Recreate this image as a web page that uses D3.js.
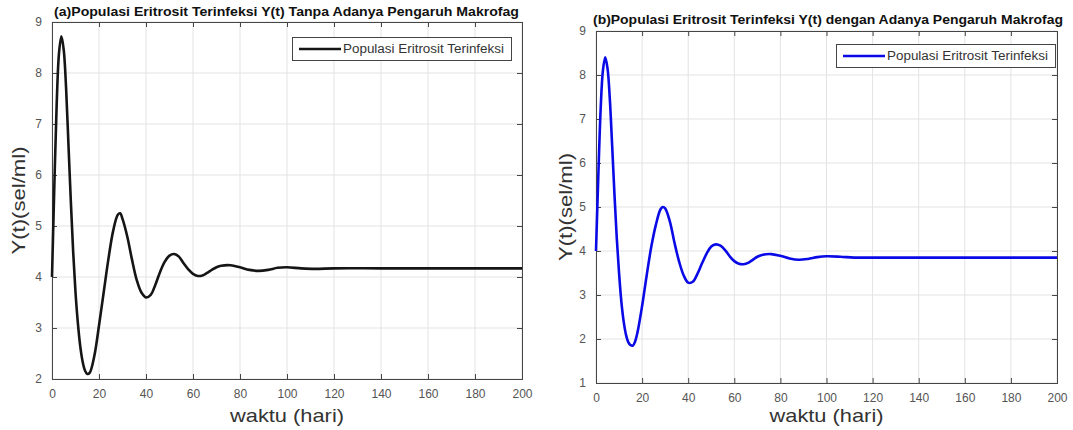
<!DOCTYPE html>
<meta charset="utf-8">
<style>
	body { margin: 0; background: #fff; }
	.grid line { stroke: #e3e3e3; stroke-width: 1; }
	.frame { fill: none; stroke: #454545; stroke-width: 1; }
	.tick text { fill: #555; font-family: "Liberation Sans", Arial, sans-serif; font-size: 12px; }
	.tick line { stroke: #454545; }
	.domain { display: none; }
	.title { font-family: "Liberation Sans", Arial, sans-serif; font-weight: bold; font-size: 12px; fill: #111; }
	.label { font-family: "Liberation Sans", Arial, sans-serif; font-size: 19px; fill: #333; }
	.legend text { font-family: "Liberation Sans", Arial, sans-serif; font-size: 12px; fill: #333; }
</style>
<body>
<script src="https://d3js.org/d3.v7.min.js"></script>
<script>

	// time (hari) and Y(t)
	var tA = [0, 1, 2, 3, 4, 5, 6, 7, 8, 9, 10, 11, 12, 13, 14, 15, 16, 18, 20, 22, 24, 26, 28, 29, 30, 32, 34, 36, 38, 40, 42, 44, 46, 48, 50, 52, 54, 56, 58, 60, 62, 64, 66, 68, 70, 72, 76, 80, 84, 88, 92, 96, 100, 106, 112, 120, 140, 160, 180, 200];
	var yA = [4.0, 5.8, 7.4, 8.4, 8.72, 8.45, 7.7, 6.6, 5.5, 4.5, 3.7, 3.1, 2.65, 2.35, 2.17, 2.1, 2.12, 2.45, 3.05, 3.7, 4.35, 4.9, 5.22, 5.25, 5.14, 4.8, 4.35, 3.95, 3.7, 3.6, 3.65, 3.85, 4.1, 4.3, 4.42, 4.45, 4.4, 4.27, 4.15, 4.06, 4.02, 4.03, 4.08, 4.14, 4.19, 4.22, 4.23, 4.19, 4.14, 4.12, 4.14, 4.18, 4.19, 4.17, 4.16, 4.17, 4.17, 4.17, 4.17, 4.17];

	var tB = [0, 1, 2, 3, 4, 5, 6, 7, 8, 9, 10, 11, 12, 13, 14, 15, 16, 17, 18, 20, 22, 24, 26, 28, 29, 30, 32, 34, 36, 38, 40, 42, 44, 46, 48, 50, 52, 54, 56, 58, 60, 62, 64, 66, 68, 70, 72, 76, 80, 84, 88, 92, 96, 100, 106, 112, 120, 140, 160, 180, 200];
	var yB = [4.0, 5.7, 7.2, 8.1, 8.4, 8.15, 7.45, 6.4, 5.3, 4.3, 3.5, 2.85, 2.4, 2.1, 1.93, 1.86, 1.85, 1.95, 2.15, 2.75, 3.45, 4.1, 4.6, 4.95, 5.0, 4.97, 4.68, 4.2, 3.77, 3.45, 3.28, 3.3, 3.48, 3.72, 3.94, 4.1, 4.15, 4.12, 4.02, 3.88, 3.77, 3.71, 3.7, 3.73, 3.8, 3.87, 3.91, 3.93, 3.89, 3.83, 3.8, 3.82, 3.86, 3.88, 3.87, 3.85, 3.85, 3.85, 3.85, 3.85, 3.85];

	var xTicks = [0, 20, 40, 60, 80, 100, 120, 140, 160, 180, 200];
	var yTicksA = [2, 3, 4, 5, 6, 7, 8, 9];
	var yTicksB = [1, 2, 3, 4, 5, 6, 7, 8, 9];

	var titles = ["(a)Populasi Eritrosit Terinfeksi Y(t) Tanpa Adanya Pengaruh Makrofag",
		"(b)Populasi Eritrosit Terinfeksi Y(t) dengan Adanya Pengaruh Makrofag"];
	var legendLabel = "Populasi Eritrosit Terinfeksi";
	var xLabel = "waktu (hari)";
	var yLabel = "Y(t)(sel/ml)";

	var svg = d3.select("body").append("svg")
		.attr("width", 1073)
		.attr("height", 430);

	var fmt = d3.format("d");

	function panel(opt) {
		var x = d3.scaleLinear().domain([0, 200]).range([opt.left, opt.right]);
		var y = d3.scaleLinear().domain(opt.yDomain).range([opt.bottom, opt.top]);
		var g = svg.append("g");
		var w = opt.right - opt.left, h = opt.bottom - opt.top;

		// grid
		g.append("g").attr("class", "grid")
			.selectAll("line").data(xTicks).enter().append("line")
			.attr("x1", x).attr("x2", x).attr("y1", opt.top).attr("y2", opt.bottom);
		g.append("g").attr("class", "grid")
			.selectAll("line").data(opt.yTicks).enter().append("line")
			.attr("y1", y).attr("y2", y).attr("x1", opt.left).attr("x2", opt.right);

		// axes, ticks inside like matlab
		g.append("g").attr("transform", "translate(0," + opt.bottom + ")")
			.call(d3.axisBottom(x).tickValues(xTicks).tickFormat(fmt).tickSizeInner(-5).tickSizeOuter(0).tickPadding(10));
		g.append("g").attr("transform", "translate(0," + opt.top + ")")
			.call(d3.axisTop(x).tickValues(xTicks).tickSizeInner(-5).tickSizeOuter(0).tickFormat(""));
		g.append("g").attr("transform", "translate(" + opt.left + ",0)")
			.call(d3.axisLeft(y).tickValues(opt.yTicks).tickFormat(fmt).tickSizeInner(-5).tickSizeOuter(0).tickPadding(10));
		g.append("g").attr("transform", "translate(" + opt.right + ",0)")
			.call(d3.axisRight(y).tickValues(opt.yTicks).tickSizeInner(-5).tickSizeOuter(0).tickFormat(""));

		g.append("rect").attr("class", "frame")
			.attr("x", opt.left + 0.5).attr("y", opt.top + 0.5)
			.attr("width", w).attr("height", h);

		var line = d3.line()
			.x(function(d) { return x(d[0]); })
			.y(function(d) { return y(d[1]); })
			.curve(d3.curveCatmullRom.alpha(0.5));

		g.append("path")
			.datum(d3.zip(opt.t, opt.v))
			.attr("d", line)
			.attr("fill", "none")
			.attr("stroke", opt.color)
			.attr("stroke-width", 2.6)
			.attr("stroke-linejoin", "round");

		// title
		g.append("text").attr("class", "title")
			.attr("x", opt.titleX).attr("y", opt.titleY)
			.attr("textLength", opt.titleW).attr("lengthAdjust", "spacingAndGlyphs")
			.text(opt.title);

		// axis labels
		g.append("text").attr("class", "label")
			.attr("x", (opt.left + opt.right) / 2).attr("y", 422)
			.attr("text-anchor", "middle")
			.attr("textLength", 114).attr("lengthAdjust", "spacingAndGlyphs")
			.text(xLabel);
		g.append("text").attr("class", "label")
			.attr("transform", "translate(" + opt.yLabelX + "," + (opt.top + opt.bottom) / 2 + ")rotate(-90)")
			.attr("text-anchor", "middle")
			.attr("textLength", 108).attr("lengthAdjust", "spacingAndGlyphs")
			.text(yLabel);

		// legend
		var lg = g.append("g").attr("class", "legend")
			.attr("transform", "translate(" + opt.legX + "," + opt.legY + ")");
		lg.append("rect")
			.attr("x", 0.5).attr("y", 0.5).attr("width", 219).attr("height", 23)
			.attr("fill", "#fff").attr("stroke", "#444");
		lg.append("line")
			.attr("x1", 7).attr("x2", 49).attr("y1", 12).attr("y2", 12)
			.attr("stroke", opt.color).attr("stroke-width", 2.6);
		lg.append("text")
			.attr("x", 51).attr("y", 16)
			.attr("textLength", 161).attr("lengthAdjust", "spacingAndGlyphs")
			.text(legendLabel);
	}

	panel({
		left: 52, right: 522, top: 22, bottom: 379,
		yDomain: [2, 9], yTicks: yTicksA,
		t: tA, v: yA, color: "#151515",
		title: titles[0], titleX: 54, titleY: 16, titleW: 465,
		yLabelX: 25, legX: 292, legY: 37
	});

	panel({
		left: 596, right: 1057, top: 31, bottom: 383,
		yDomain: [1, 9], yTicks: yTicksB,
		t: tB, v: yB, color: "#0a0ae6",
		title: titles[1], titleX: 593, titleY: 24, titleW: 470,
		yLabelX: 572, legX: 836, legY: 44
	});

</script>
</body>
</html>
